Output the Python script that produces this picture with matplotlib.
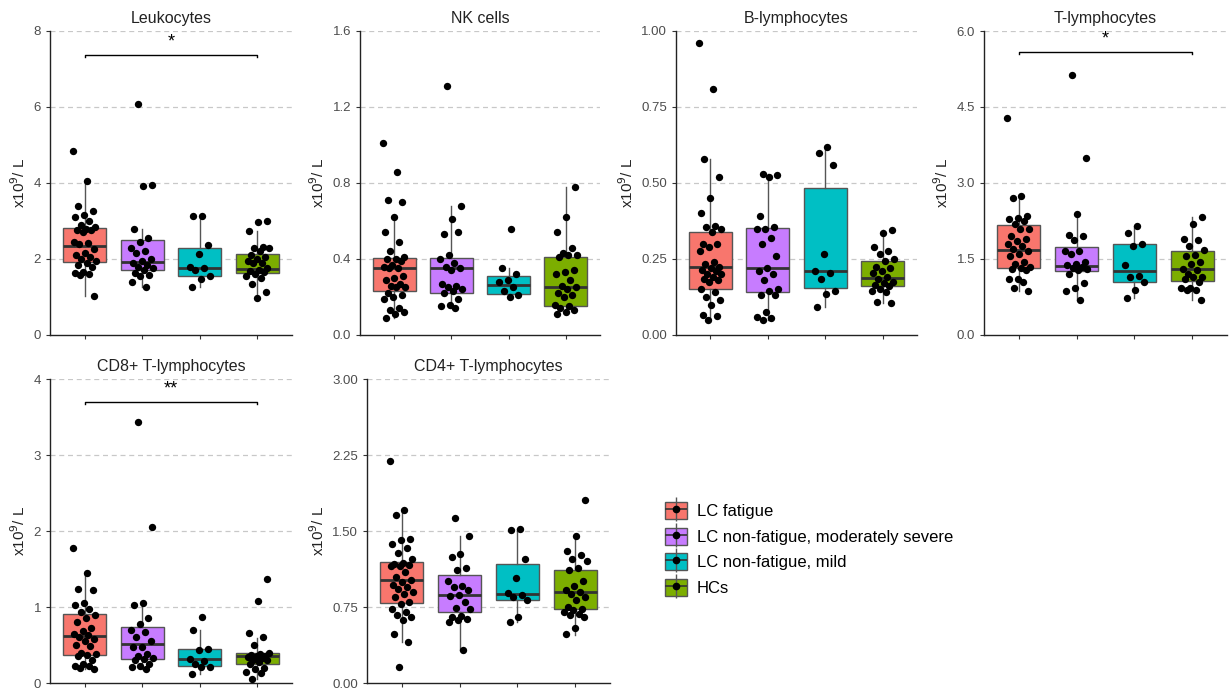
import numpy as np
import matplotlib.pyplot as plt
from matplotlib.patches import Patch
from matplotlib.lines import Line2D
from matplotlib.legend_handler import HandlerTuple

plt.rcParams['font.family'] = ['Liberation Sans', 'DejaVu Sans']

groups = ['LC fatigue', 'LC non-fatigue, moderately severe', 'LC non-fatigue, mild', 'HCs']
colors = ['#F8766D', '#C77CFF', '#00BFC4', '#7CAE00']

titles = ['Leukocytes', 'NK cells', 'B-lymphocytes', 'T-lymphocytes',
          'CD8+ T-lymphocytes', 'CD4+ T-lymphocytes']
ymax = [8, 1.6, 1.0, 6.0, 4, 3.0]
yticks = [[0, 2, 4, 6, 8],
          [0.0, 0.4, 0.8, 1.2, 1.6],
          [0.00, 0.25, 0.50, 0.75, 1.00],
          [0.0, 1.5, 3.0, 4.5, 6.0],
          [0, 1, 2, 3, 4],
          [0.00, 0.75, 1.50, 2.25, 3.00]]
ytick_fmt = ['{:.0f}', '{:.1f}', '{:.2f}', '{:.1f}', '{:.0f}', '{:.2f}']

# box stats per panel, per group: (whisker low, q1, median, q3, whisker high)
box_stats = [
    [(1.03, 1.93, 2.35, 2.81, 4.05), (1.25, 1.71, 1.92, 2.50, 2.78),
     (1.27, 1.56, 1.76, 2.30, 3.13), (0.97, 1.62, 1.73, 2.12, 2.74)],
    [(0.09, 0.233, 0.351, 0.407, 0.62), (0.14, 0.223, 0.35, 0.404, 0.68),
     (0.20, 0.216, 0.263, 0.312, 0.35), (0.11, 0.153, 0.251, 0.409, 0.78)],
    [(0.048, 0.15, 0.223, 0.34, 0.58), (0.048, 0.14, 0.22, 0.351, 0.53),
     (0.093, 0.155, 0.209, 0.485, 0.62), (0.105, 0.161, 0.189, 0.245, 0.345)],
    [(0.87, 1.33, 1.68, 2.17, 2.75), (0.70, 1.26, 1.36, 1.74, 2.38),
     (0.73, 1.05, 1.27, 1.80, 2.16), (0.70, 1.07, 1.30, 1.66, 2.33)],
    [(0.18, 0.37, 0.62, 0.91, 1.45), (0.19, 0.32, 0.51, 0.74, 1.05),
     (0.12, 0.22, 0.31, 0.45, 0.70), (0.05, 0.25, 0.35, 0.40, 0.59)],
    [(0.40, 0.79, 1.02, 1.19, 1.71), (0.33, 0.70, 0.87, 1.07, 1.45),
     (0.60, 0.82, 0.88, 1.17, 1.52), (0.47, 0.73, 0.90, 1.12, 1.45)],
]

leuko_pts = [
    [4.85, 4.05, 3.4, 3.25, 3.15, 3.1, 3.0, 2.9, 2.85, 2.8, 2.75, 2.75, 2.7, 2.45, 2.42,
     2.4, 2.25, 2.15, 2.1, 2.05, 2.0, 1.95, 1.9, 1.85, 1.8, 1.65, 1.62, 1.6, 1.58, 1.03],
    [6.08, 3.95, 3.92, 2.78, 2.55, 2.45, 2.3, 2.2, 2.15, 2.0, 1.95, 1.9, 1.85, 1.8, 1.75,
     1.72, 1.62, 1.58, 1.55, 1.4, 1.25],
    [3.13, 3.13, 2.37, 2.13, 1.8, 1.75, 1.7, 1.55, 1.47, 1.27],
    [3.0, 2.97, 2.73, 2.32, 2.3, 2.28, 2.22, 2.1, 2.05, 2.0, 1.95, 1.9, 1.9, 1.75, 1.7,
     1.68, 1.65, 1.6, 1.55, 1.5, 1.33, 1.13, 0.97],
]
nk_pts = [
    [1.01, 0.86, 0.71, 0.70, 0.62, 0.54, 0.49, 0.44, 0.41, 0.40, 0.40, 0.39, 0.37, 0.36,
     0.35, 0.35, 0.31, 0.30, 0.29, 0.27, 0.26, 0.25, 0.25, 0.22, 0.21, 0.20, 0.19, 0.14,
     0.13, 0.12, 0.11, 0.09],
    [1.31, 0.68, 0.61, 0.53, 0.54, 0.42, 0.40, 0.38, 0.36, 0.35, 0.34, 0.27, 0.26, 0.25,
     0.24, 0.23, 0.22, 0.19, 0.16, 0.15, 0.14],
    [0.56, 0.35, 0.32, 0.29, 0.28, 0.25, 0.23, 0.21, 0.20],
    [0.78, 0.62, 0.54, 0.46, 0.43, 0.42, 0.42, 0.41, 0.34, 0.33, 0.32, 0.29, 0.26, 0.25,
     0.24, 0.22, 0.21, 0.20, 0.16, 0.15, 0.14, 0.13, 0.12, 0.11],
]
b_pts = [
    [0.96, 0.81, 0.58, 0.52, 0.45, 0.40, 0.36, 0.355, 0.35, 0.34, 0.30, 0.30, 0.29, 0.275,
     0.24, 0.235, 0.225, 0.22, 0.215, 0.21, 0.20, 0.20, 0.19, 0.185, 0.18, 0.175, 0.15,
     0.14, 0.125, 0.115, 0.10, 0.065, 0.062, 0.048],
    [0.53, 0.525, 0.52, 0.39, 0.355, 0.35, 0.35, 0.32, 0.30, 0.26, 0.22, 0.21, 0.20, 0.18,
     0.15, 0.145, 0.13, 0.13, 0.075, 0.058, 0.055, 0.048],
    [0.62, 0.60, 0.56, 0.265, 0.21, 0.205, 0.185, 0.145, 0.135, 0.093],
    [0.345, 0.335, 0.29, 0.275, 0.265, 0.25, 0.245, 0.225, 0.22, 0.21, 0.205, 0.19, 0.185,
     0.175, 0.17, 0.165, 0.16, 0.15, 0.145, 0.14, 0.11, 0.105],
]
t_pts = [
    [4.28, 2.75, 2.7, 2.35, 2.3, 2.28, 2.25, 2.2, 2.1, 2.1, 1.95, 1.9, 1.85, 1.8, 1.75,
     1.7, 1.65, 1.6, 1.55, 1.45, 1.4, 1.35, 1.33, 1.3, 1.28, 1.1, 1.1, 1.05, 0.92, 0.87],
    [5.13, 3.49, 2.38, 1.98, 1.95, 1.88, 1.65, 1.65, 1.6, 1.45, 1.4, 1.38, 1.35, 1.33,
     1.3, 1.28, 1.2, 1.03, 0.93, 0.87, 0.7],
    [2.16, 2.01, 1.8, 1.75, 1.38, 1.17, 1.15, 1.04, 0.89, 0.73],
    [2.33, 2.2, 1.9, 1.88, 1.75, 1.68, 1.58, 1.55, 1.45, 1.4, 1.3, 1.28, 1.2, 1.15, 1.15,
     1.1, 1.05, 0.92, 0.92, 0.89, 0.88, 0.7],
]
cd8_pts = [
    [1.78, 1.45, 1.24, 1.22, 1.05, 1.02, 0.98, 0.93, 0.90, 0.85, 0.80, 0.73, 0.68, 0.65,
     0.63, 0.60, 0.58, 0.55, 0.50, 0.49, 0.40, 0.38, 0.37, 0.36, 0.30, 0.25, 0.23, 0.22,
     0.20, 0.18],
    [3.43, 2.05, 1.05, 1.02, 0.86, 0.77, 0.70, 0.67, 0.60, 0.55, 0.48, 0.47, 0.38, 0.35,
     0.33, 0.31, 0.30, 0.25, 0.22, 0.21, 0.19],
    [0.87, 0.70, 0.45, 0.43, 0.32, 0.29, 0.25, 0.21, 0.21, 0.12],
    [1.37, 1.08, 0.66, 0.60, 0.50, 0.40, 0.38, 0.37, 0.36, 0.35, 0.34, 0.33, 0.30, 0.30,
     0.28, 0.25, 0.20, 0.18, 0.15, 0.13, 0.05],
]
cd4_pts = [
    [2.19, 1.71, 1.66, 1.42, 1.41, 1.37, 1.33, 1.28, 1.22, 1.18, 1.17, 1.16, 1.15, 1.15,
     1.10, 1.05, 1.02, 1.00, 0.97, 0.95, 0.93, 0.90, 0.88, 0.85, 0.80, 0.78, 0.73, 0.70,
     0.67, 0.65, 0.62, 0.48, 0.40, 0.16],
    [1.63, 1.45, 1.27, 1.24, 1.13, 1.12, 1.01, 0.96, 0.95, 0.92, 0.87, 0.86, 0.80, 0.74,
     0.73, 0.66, 0.65, 0.63, 0.62, 0.60, 0.33],
    [1.52, 1.51, 1.22, 1.04, 0.89, 0.87, 0.85, 0.82, 0.65, 0.60],
    [1.81, 1.45, 1.30, 1.26, 1.22, 1.20, 1.13, 1.12, 1.01, 0.96, 0.92, 0.90, 0.88, 0.85,
     0.82, 0.75, 0.73, 0.72, 0.70, 0.68, 0.67, 0.65, 0.54, 0.48],
]
points = [leuko_pts, nk_pts, b_pts, t_pts, cd8_pts, cd4_pts]

# significance brackets: panel index -> (bracket y, label)
signif = {0: (7.38, '*'), 3: (5.59, '*'), 4: (3.70, '**')}

# axes rectangles in pixels: left, top, right, bottom
W, H = 1231, 694
rects = [(50, 31, 292, 335), (360, 31, 600, 335), (676, 31, 917, 335), (984, 31, 1227, 335),
         (50, 379, 292, 683), (367, 379, 610, 683)]

fig = plt.figure(figsize=(W / 100, H / 100), dpi=100)

for k in range(6):
    l, t, r, b = rects[k]
    ax = fig.add_axes([l / W, 1 - b / H, (r - l) / W, (b - t) / H])
    for yt in yticks[k][1:]:
        ax.axhline(yt, color='#C8C8C8', lw=0.9, ls=(0, (4, 3)), zorder=0)
    stats = []
    for lo, q1, med, q3, hi in box_stats[k]:
        stats.append(dict(whislo=lo, q1=q1, med=med, q3=q3, whishi=hi, fliers=[]))
    bp = ax.bxp(stats, positions=[1, 2, 3, 4], widths=0.75, patch_artist=True,
                showcaps=False, showfliers=False,
                boxprops=dict(edgecolor='#555555', linewidth=1.0),
                whiskerprops=dict(color='#555555', linewidth=1.0),
                medianprops=dict(color='#333333', linewidth=2.0))
    for patch, c in zip(bp['boxes'], colors):
        patch.set_facecolor(c)
    for g, vals in enumerate(points[k]):
        n = len(vals)
        offs = ((np.arange(n) * 0.618 + 0.3 * g) % 1.0 - 0.5) * 0.4
        ax.scatter(g + 1 + offs, vals, s=28, color='black', zorder=5, linewidths=0)
    if k in signif:
        yb, lab = signif[k]
        d = ymax[k] * 0.008
        ax.plot([1, 1, 4, 4], [yb - d, yb, yb, yb - d], color='black', lw=1.0)
        ax.text(2.5, yb + ymax[k] * 0.015, lab, ha='center', va='bottom', fontsize=13)
    ax.set_xlim(0.4, 4.6)
    ax.set_ylim(0, ymax[k])
    ax.set_yticks(yticks[k])
    ax.set_yticklabels([ytick_fmt[k].format(v) for v in yticks[k]])
    ax.set_xticks([1, 2, 3, 4])
    ax.set_xticklabels([])
    ax.tick_params(axis='both', length=3, color='#333333', labelsize=9.5, labelcolor='#4D4D4D')
    for s in ['top', 'right']:
        ax.spines[s].set_visible(False)
    for s in ['left', 'bottom']:
        ax.spines[s].set_color('#222222')
        ax.spines[s].set_linewidth(1.0)
    ax.set_ylabel('x10$^9$/ L', fontsize=11, color='#222222')
    ax.set_title(titles[k], fontsize=11.5, color='#222222', pad=6)

handles = []
for c in colors:
    handles.append((Patch(facecolor=c, edgecolor='#555555'),
                    Line2D([], [], marker='|', markersize=17, color='#555555', ls='none'),
                    Line2D([], [], marker='_', markersize=16, color='#333333', ls='none',
                           markeredgewidth=1.2),
                    Line2D([], [], marker='o', markersize=4.5, color='black', ls='none')))
fig.legend(handles, groups, handler_map={tuple: HandlerTuple(ndivide=1, pad=0)},
           loc='upper left', bbox_to_anchor=(650 / W, 1 - 487 / H), frameon=False,
           fontsize=12, handlelength=1.3, handleheight=1.2, labelspacing=0.5,
           handletextpad=0.6)

fig.savefig('out.png', dpi=100)
